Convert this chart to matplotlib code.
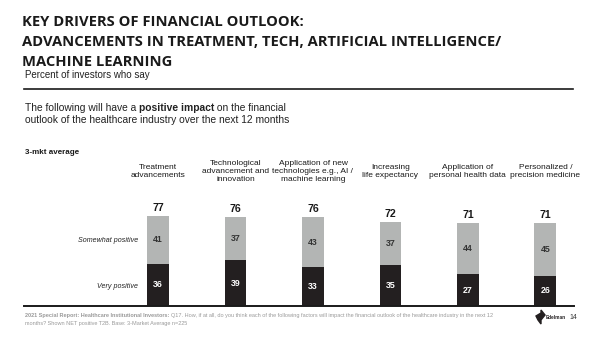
import matplotlib
matplotlib.use("Agg")
import matplotlib.pyplot as plt
import numpy as np
from matplotlib.patches import Polygon

# --- data ---
categories = [
    "Treatment\nadvancements",
    "Technological\nadvancement and\ninnovation",
    "Application of new\ntechnologies e.g., AI /\nmachine learning",
    "Increasing\nlife expectancy",
    "Application of\npersonal health data",
    "Personalized /\nprecision medicine",
]
very_positive = [36, 39, 33, 35, 27, 26]
somewhat_positive = [41, 37, 43, 37, 44, 45]
net_positive = [77, 76, 76, 72, 71, 71]

W, H = 600, 337
fig = plt.figure(figsize=(W / 100, H / 100), dpi=100)
fig.patch.set_facecolor("white")

SANS = ["Liberation Sans", "DejaVu Sans"]
TITLE = ["Open Sans", "DejaVu Sans"]


def px(x, y):
    """pixel coords (top-left origin) -> figure fraction"""
    return x / W, 1 - y / H


def ftext(x, y, s, **kw):
    kw.setdefault("family", SANS)
    return fig.text(*px(x, y), s, **kw)


def run_text(x, y, parts, **kw):
    # consecutive text pieces with their own weights on one line
    fig.canvas.draw()
    r = fig.canvas.get_renderer()
    for s, wt in parts:
        t = ftext(x, y, s, fontweight=wt, **kw)
        bb = t.get_window_extent(renderer=r)
        x += bb.width


# --- header ---
for k, line in enumerate(["KEY DRIVERS OF FINANCIAL OUTLOOK:",
                          "ADVANCEMENTS IN TREATMENT, TECH, ARTIFICIAL INTELLIGENCE/",
                          "MACHINE LEARNING"]):
    ftext(22, 22 + 20 * k, line, family=TITLE, fontweight="bold",
          fontsize=10.6, color="#1a1a1a", va="center")
ftext(25, 75, "Percent of investors who say", fontsize=7, color="#222222", va="center")
fig.add_artist(plt.Line2D([24 / W, 573 / W], [1 - 89 / H] * 2, color="#1a1a1a", lw=1.2))

run_text(25, 108, [("The following will have a ", "normal"), ("positive impact", "bold"),
                   (" on the financial", "normal")], fontsize=7.4, color="#222222", va="center")
ftext(25, 120, "outlook of the healthcare industry over the next 12 months", fontsize=7.4,
      color="#222222", va="center")
ftext(25, 152, "3-mkt average", fontsize=5.8, fontweight="bold", color="#1a1a1a", va="center")

# --- bars ---
ax = fig.add_axes([24 / W, (H - 306) / H, (574 - 24) / W, 106 / H])
x = np.arange(len(categories))
ax.bar(x, very_positive, width=0.28, color="#231f20", zorder=2)
ax.bar(x, somewhat_positive, bottom=very_positive, width=0.28, color="#b3b5b4", zorder=2)
ax.set_xlim(-1.73, 5.37)
ax.set_ylim(0, 106 / 1.17)
for s in ["top", "left", "right"]:
    ax.spines[s].set_visible(False)
ax.spines["bottom"].set_linewidth(1.4)
ax.spines["bottom"].set_color("#1a1a1a")
ax.set_xticks([])
ax.set_yticks([])
ax.patch.set_alpha(0)

for i in range(len(x)):
    vp, sp, tot = very_positive[i], somewhat_positive[i], net_positive[i]
    ax.text(i, vp / 2, str(vp), ha="center", va="center", fontsize=6.3,
            fontweight="bold", color="white", family=SANS)
    ax.text(i, vp + sp / 2, str(sp), ha="center", va="center", fontsize=6.3,
            fontweight="bold", color="#333333", family=SANS)
    ax.text(i, tot + 2.5, str(tot), ha="center", va="bottom", fontsize=7.6,
            fontweight="bold", color="#1a1a1a", family=SANS, clip_on=False)

# category headers above the columns
for i, c in enumerate(categories):
    xf = ax.transData.transform((i, 0))[0] / fig.dpi / fig.get_figwidth()
    fig.text(xf, 1 - 171.5 / H, c, ha="center", va="center", fontsize=6.05,
             color="#1a1a1a", family=SANS, linespacing=1.18)

ftext(138, 241, "Somewhat positive", fontsize=5.1, style="italic", color="#222222",
      ha="right", va="center")
ftext(138, 287, "Very positive", fontsize=5.1, style="italic", color="#222222",
      ha="right", va="center")

# --- footer ---
run_text(25, 315, [("2021 Special Report: Healthcare Institutional Investors: ", "bold"),
                   ("Q17. How, if at all, do you think each of the following factors will impact "
                    "the financial outlook of the healthcare industry in the next 12", "normal")],
         fontsize=4.0, color="#9a9a9a", va="center")
ftext(25, 323, "months? Shown NET positive T2B. Base: 3-Market Average n=225", fontsize=4.0,
      color="#9a9a9a", va="center")

# small logo mark and page number
logo = np.array([[536, 316], [541, 313], [541, 310], [545, 315], [541, 320], [541, 324], [538, 320]])
fig.add_artist(Polygon([px(*p) for p in logo], closed=True, color="#231f20",
                       transform=fig.transFigure))
ftext(546, 317.5, "Edelman", fontsize=3.4, fontweight="bold", color="#231f20", va="center")
ftext(569, 317.5, "14", fontsize=5, color="#333333", va="center")

fig.savefig("out.png", dpi=100, facecolor="white")
